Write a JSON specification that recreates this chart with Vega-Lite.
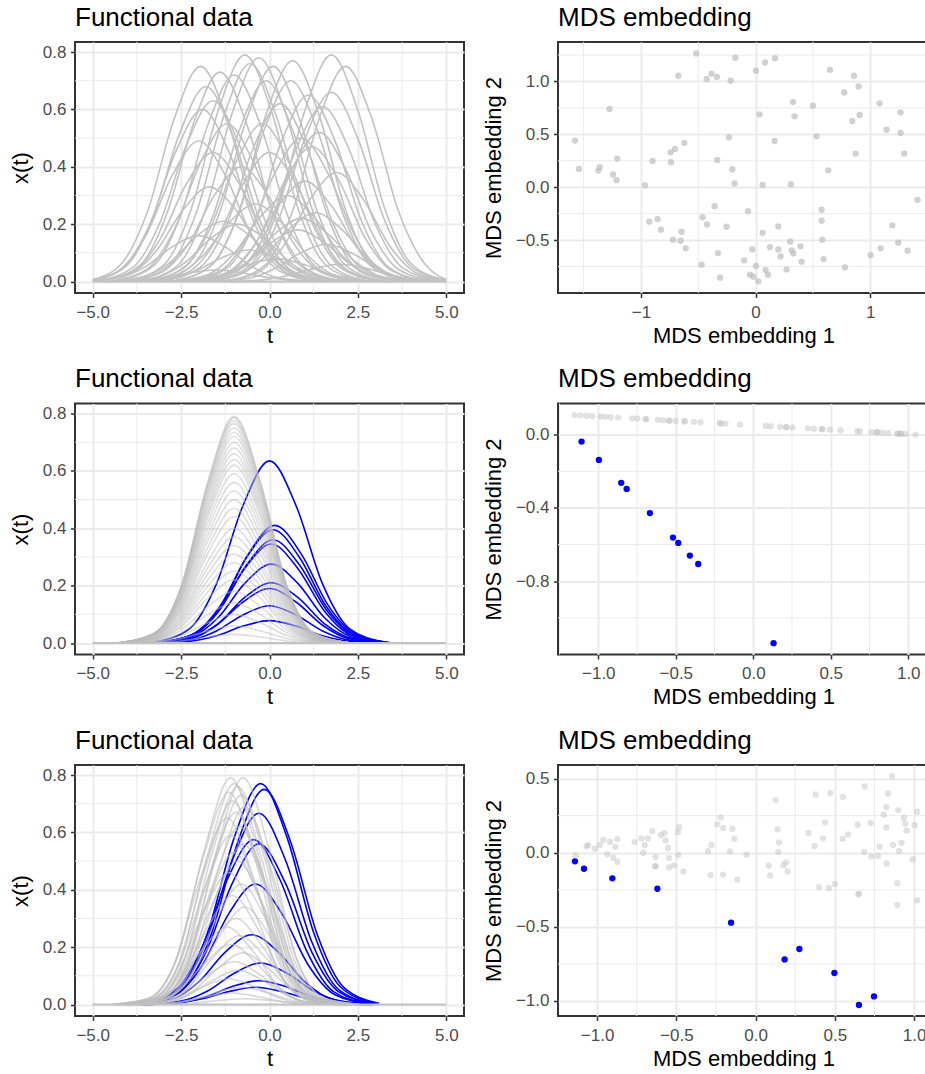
{
"$schema":"https://vega.github.io/schema/vega-lite/v6.json",
"background":"white",
"padding":{"left":8,"top":3,"right":0,"bottom":0},
"config":{
"font":"Liberation Sans",
"view":{"stroke":"#333333","strokeWidth":2},
"axis":{"domain":false,"grid":true,"gridColor":"#EBEBEB","gridWidth":2,"tickColor":"#333333","tickSize":4.5,"tickWidth":1.5,"labelFont":"Liberation Sans","labelFontSize":17,"labelColor":"#4D4D4D","titleFont":"Liberation Sans","titleFontSize":22,"titleFontWeight":"normal","titleColor":"#000000"},
"axisX":{"labelPadding":6.5,"titlePadding":6,"minExtent":26,"maxExtent":26},
"axisY":{"labelPadding":4.5,"titlePadding":9.5},
"title":{"font":"Liberation Sans","fontSize":26,"fontWeight":"normal","anchor":"start","frame":"group","offset":11,"baseline":"alphabetic","color":"#000000"}
},
"datasets":{
"f1":[
{"c":1,"t":-5,"x":0.007},{"c":1,"t":-4.2,"x":0.06},{"c":1,"t":-3.45,"x":0.244},{"c":1,"t":-2.7,"x":0.566},{"c":1,"t":-1.95,"x":0.75},{"c":1,"t":-1.2,"x":0.566},{"c":1,"t":-0.45,"x":0.244},{"c":1,"t":0.3,"x":0.06},{"c":1,"t":1.3,"x":0.004},
{"c":2,"t":-4.65,"x":0.004},{"c":2,"t":-3.65,"x":0.058},{"c":2,"t":-2.9,"x":0.237},{"c":2,"t":-2.15,"x":0.551},{"c":2,"t":-1.4,"x":0.73},{"c":2,"t":-0.65,"x":0.551},{"c":2,"t":0.1,"x":0.237},{"c":2,"t":0.85,"x":0.058},{"c":2,"t":1.85,"x":0.004},
{"c":3,"t":-5,"x":0.004},{"c":3,"t":-4.05,"x":0.054},{"c":3,"t":-3.3,"x":0.221},{"c":3,"t":-2.55,"x":0.513},{"c":3,"t":-1.8,"x":0.68},{"c":3,"t":-1.05,"x":0.513},{"c":3,"t":-0.3,"x":0.221},{"c":3,"t":0.45,"x":0.054},{"c":3,"t":1.45,"x":0.003},
{"c":4,"t":-4.85,"x":0.003},{"c":4,"t":-3.85,"x":0.05},{"c":4,"t":-3.1,"x":0.205},{"c":4,"t":-2.35,"x":0.476},{"c":4,"t":-1.6,"x":0.63},{"c":4,"t":-0.85,"x":0.476},{"c":4,"t":-0.1,"x":0.205},{"c":4,"t":0.65,"x":0.05},{"c":4,"t":1.65,"x":0.003},
{"c":5,"t":-5,"x":0.005},{"c":5,"t":-4.15,"x":0.048},{"c":5,"t":-3.4,"x":0.195},{"c":5,"t":-2.65,"x":0.453},{"c":5,"t":-1.9,"x":0.6},{"c":5,"t":-1.15,"x":0.453},{"c":5,"t":-0.4,"x":0.195},{"c":5,"t":0.35,"x":0.048},{"c":5,"t":1.35,"x":0.003},
{"c":6,"t":-5,"x":0.005},{"c":6,"t":-4.25,"x":0.039},{"c":6,"t":-3.5,"x":0.159},{"c":6,"t":-2.75,"x":0.37},{"c":6,"t":-2,"x":0.49},{"c":6,"t":-1.25,"x":0.37},{"c":6,"t":-0.5,"x":0.159},{"c":6,"t":0.25,"x":0.039},{"c":6,"t":1.25,"x":0.002},
{"c":7,"t":-3.95,"x":0.004},{"c":7,"t":-2.95,"x":0.063},{"c":7,"t":-2.2,"x":0.257},{"c":7,"t":-1.45,"x":0.596},{"c":7,"t":-0.7,"x":0.79},{"c":7,"t":0.05,"x":0.596},{"c":7,"t":0.8,"x":0.257},{"c":7,"t":1.55,"x":0.063},{"c":7,"t":2.55,"x":0.004},
{"c":8,"t":-3.55,"x":0.004},{"c":8,"t":-2.55,"x":0.062},{"c":8,"t":-1.8,"x":0.254},{"c":8,"t":-1.05,"x":0.589},{"c":8,"t":-0.3,"x":0.78},{"c":8,"t":0.45,"x":0.589},{"c":8,"t":1.2,"x":0.254},{"c":8,"t":1.95,"x":0.062},{"c":8,"t":2.95,"x":0.004},
{"c":9,"t":-3.8,"x":0.004},{"c":9,"t":-2.8,"x":0.061},{"c":9,"t":-2.05,"x":0.247},{"c":9,"t":-1.3,"x":0.574},{"c":9,"t":-0.55,"x":0.76},{"c":9,"t":0.2,"x":0.574},{"c":9,"t":0.95,"x":0.247},{"c":9,"t":1.7,"x":0.061},{"c":9,"t":2.7,"x":0.004},
{"c":10,"t":-3.15,"x":0.004},{"c":10,"t":-2.15,"x":0.06},{"c":10,"t":-1.4,"x":0.244},{"c":10,"t":-0.65,"x":0.566},{"c":10,"t":0.1,"x":0.75},{"c":10,"t":0.85,"x":0.566},{"c":10,"t":1.6,"x":0.244},{"c":10,"t":2.35,"x":0.06},{"c":10,"t":3.35,"x":0.004},
{"c":11,"t":-2.6,"x":0.004},{"c":11,"t":-1.6,"x":0.062},{"c":11,"t":-0.85,"x":0.25},{"c":11,"t":-0.1,"x":0.581},{"c":11,"t":0.65,"x":0.77},{"c":11,"t":1.4,"x":0.581},{"c":11,"t":2.15,"x":0.25},{"c":11,"t":2.9,"x":0.062},{"c":11,"t":3.9,"x":0.004},
{"c":12,"t":-1.5,"x":0.004},{"c":12,"t":-0.5,"x":0.063},{"c":12,"t":0.25,"x":0.257},{"c":12,"t":1,"x":0.596},{"c":12,"t":1.75,"x":0.79},{"c":12,"t":2.5,"x":0.596},{"c":12,"t":3.25,"x":0.257},{"c":12,"t":4,"x":0.063},{"c":12,"t":5,"x":0.004},
{"c":13,"t":-1.1,"x":0.004},{"c":13,"t":-0.1,"x":0.06},{"c":13,"t":0.65,"x":0.244},{"c":13,"t":1.4,"x":0.566},{"c":13,"t":2.15,"x":0.75},{"c":13,"t":2.9,"x":0.566},{"c":13,"t":3.65,"x":0.244},{"c":13,"t":4.4,"x":0.06},{"c":13,"t":5,"x":0.007},
{"c":14,"t":-1.5,"x":0.003},{"c":14,"t":-0.5,"x":0.053},{"c":14,"t":0.25,"x":0.215},{"c":14,"t":1,"x":0.498},{"c":14,"t":1.75,"x":0.66},{"c":14,"t":2.5,"x":0.498},{"c":14,"t":3.25,"x":0.215},{"c":14,"t":4,"x":0.053},{"c":14,"t":5,"x":0.003},
{"c":15,"t":-1.75,"x":0.003},{"c":15,"t":-0.75,"x":0.049},{"c":15,"t":0,"x":0.198},{"c":15,"t":0.75,"x":0.461},{"c":15,"t":1.5,"x":0.61},{"c":15,"t":2.25,"x":0.461},{"c":15,"t":3,"x":0.198},{"c":15,"t":3.75,"x":0.049},{"c":15,"t":4.75,"x":0.003},
{"c":16,"t":-2.65,"x":0.004},{"c":16,"t":-1.65,"x":0.056},{"c":16,"t":-0.9,"x":0.228},{"c":16,"t":-0.15,"x":0.529},{"c":16,"t":0.6,"x":0.7},{"c":16,"t":1.35,"x":0.529},{"c":16,"t":2.1,"x":0.228},{"c":16,"t":2.85,"x":0.056},{"c":16,"t":3.85,"x":0.004},
{"c":17,"t":-2.35,"x":0.003},{"c":17,"t":-1.35,"x":0.04},{"c":17,"t":-0.6,"x":0.163},{"c":17,"t":0.15,"x":0.378},{"c":17,"t":0.9,"x":0.5},{"c":17,"t":1.65,"x":0.378},{"c":17,"t":2.4,"x":0.163},{"c":17,"t":3.15,"x":0.04},{"c":17,"t":4.15,"x":0.003},
{"c":18,"t":-2.05,"x":0.002},{"c":18,"t":-1.05,"x":0.038},{"c":18,"t":-0.3,"x":0.153},{"c":18,"t":0.45,"x":0.355},{"c":18,"t":1.2,"x":0.47},{"c":18,"t":1.95,"x":0.355},{"c":18,"t":2.7,"x":0.153},{"c":18,"t":3.45,"x":0.038},{"c":18,"t":4.45,"x":0.002},
{"c":19,"t":-4.25,"x":0.004},{"c":19,"t":-3.25,"x":0.058},{"c":19,"t":-2.5,"x":0.234},{"c":19,"t":-1.75,"x":0.544},{"c":19,"t":-1,"x":0.72},{"c":19,"t":-0.25,"x":0.544},{"c":19,"t":0.5,"x":0.234},{"c":19,"t":1.25,"x":0.058},{"c":19,"t":2.25,"x":0.004},
{"c":20,"t":-3.35,"x":0.004},{"c":20,"t":-2.35,"x":0.056},{"c":20,"t":-1.6,"x":0.228},{"c":20,"t":-0.85,"x":0.529},{"c":20,"t":-0.1,"x":0.7},{"c":20,"t":0.65,"x":0.529},{"c":20,"t":1.4,"x":0.228},{"c":20,"t":2.15,"x":0.056},{"c":20,"t":3.15,"x":0.004},
{"c":21,"t":-2.95,"x":0.003},{"c":21,"t":-1.95,"x":0.05},{"c":21,"t":-1.2,"x":0.202},{"c":21,"t":-0.45,"x":0.468},{"c":21,"t":0.3,"x":0.62},{"c":21,"t":1.05,"x":0.468},{"c":21,"t":1.8,"x":0.202},{"c":21,"t":2.55,"x":0.05},{"c":21,"t":3.55,"x":0.003},
{"c":22,"t":-4.45,"x":0.003},{"c":22,"t":-3.45,"x":0.044},{"c":22,"t":-2.7,"x":0.179},{"c":22,"t":-1.95,"x":0.415},{"c":22,"t":-1.2,"x":0.55},{"c":22,"t":-0.45,"x":0.415},{"c":22,"t":0.3,"x":0.179},{"c":22,"t":1.05,"x":0.044},{"c":22,"t":2.05,"x":0.003},
{"c":23,"t":-3.25,"x":0.002},{"c":23,"t":-2.25,"x":0.036},{"c":23,"t":-1.5,"x":0.146},{"c":23,"t":-0.75,"x":0.34},{"c":23,"t":0,"x":0.45},{"c":23,"t":0.75,"x":0.34},{"c":23,"t":1.5,"x":0.146},{"c":23,"t":2.25,"x":0.036},{"c":23,"t":3.25,"x":0.002},
{"c":24,"t":-4.05,"x":0.002},{"c":24,"t":-3.05,"x":0.032},{"c":24,"t":-2.3,"x":0.13},{"c":24,"t":-1.55,"x":0.302},{"c":24,"t":-0.8,"x":0.4},{"c":24,"t":-0.05,"x":0.302},{"c":24,"t":0.7,"x":0.13},{"c":24,"t":1.45,"x":0.032},{"c":24,"t":2.45,"x":0.002},
{"c":25,"t":-1.35,"x":0.002},{"c":25,"t":-0.35,"x":0.03},{"c":25,"t":0.4,"x":0.124},{"c":25,"t":1.15,"x":0.287},{"c":25,"t":1.9,"x":0.38},{"c":25,"t":2.65,"x":0.287},{"c":25,"t":3.4,"x":0.124},{"c":25,"t":4.15,"x":0.03},{"c":25,"t":5,"x":0.002},
{"c":26,"t":-4.95,"x":0.002},{"c":26,"t":-3.95,"x":0.026},{"c":26,"t":-3.2,"x":0.107},{"c":26,"t":-2.45,"x":0.249},{"c":26,"t":-1.7,"x":0.33},{"c":26,"t":-0.95,"x":0.249},{"c":26,"t":-0.2,"x":0.107},{"c":26,"t":0.55,"x":0.026},{"c":26,"t":1.55,"x":0.002},
{"c":27,"t":-2.75,"x":0.002},{"c":27,"t":-1.75,"x":0.024},{"c":27,"t":-1,"x":0.098},{"c":27,"t":-0.25,"x":0.227},{"c":27,"t":0.5,"x":0.3},{"c":27,"t":1.25,"x":0.227},{"c":27,"t":2,"x":0.098},{"c":27,"t":2.75,"x":0.024},{"c":27,"t":3.75,"x":0.002},
{"c":28,"t":-3.65,"x":0.001},{"c":28,"t":-2.65,"x":0.022},{"c":28,"t":-1.9,"x":0.088},{"c":28,"t":-1.15,"x":0.204},{"c":28,"t":-0.4,"x":0.27},{"c":28,"t":0.35,"x":0.204},{"c":28,"t":1.1,"x":0.088},{"c":28,"t":1.85,"x":0.022},{"c":28,"t":2.85,"x":0.001},
{"c":29,"t":-1.95,"x":0.001},{"c":29,"t":-0.95,"x":0.019},{"c":29,"t":-0.2,"x":0.078},{"c":29,"t":0.55,"x":0.181},{"c":29,"t":1.3,"x":0.24},{"c":29,"t":2.05,"x":0.181},{"c":29,"t":2.8,"x":0.078},{"c":29,"t":3.55,"x":0.019},{"c":29,"t":4.55,"x":0.001},
{"c":30,"t":-4.55,"x":0.001},{"c":30,"t":-3.55,"x":0.017},{"c":30,"t":-2.8,"x":0.068},{"c":30,"t":-2.05,"x":0.159},{"c":30,"t":-1.3,"x":0.21},{"c":30,"t":-0.55,"x":0.159},{"c":30,"t":0.2,"x":0.068},{"c":30,"t":0.95,"x":0.017},{"c":30,"t":1.95,"x":0.001},
{"c":31,"t":-2.45,"x":0.001},{"c":31,"t":-1.45,"x":0.014},{"c":31,"t":-0.7,"x":0.059},{"c":31,"t":0.05,"x":0.136},{"c":31,"t":0.8,"x":0.18},{"c":31,"t":1.55,"x":0.136},{"c":31,"t":2.3,"x":0.059},{"c":31,"t":3.05,"x":0.014},{"c":31,"t":4.05,"x":0.001},
{"c":32,"t":-5,"x":0.002},{"c":32,"t":-4.25,"x":0.013},{"c":32,"t":-3.5,"x":0.052},{"c":32,"t":-2.75,"x":0.121},{"c":32,"t":-2,"x":0.16},{"c":32,"t":-1.25,"x":0.121},{"c":32,"t":-0.5,"x":0.052},{"c":32,"t":0.25,"x":0.013},{"c":32,"t":1.25,"x":0.001},
{"c":33,"t":-1.65,"x":0.001},{"c":33,"t":-0.65,"x":0.01},{"c":33,"t":0.1,"x":0.042},{"c":33,"t":0.85,"x":0.098},{"c":33,"t":1.6,"x":0.13},{"c":33,"t":2.35,"x":0.098},{"c":33,"t":3.1,"x":0.042},{"c":33,"t":3.85,"x":0.01},{"c":33,"t":4.85,"x":0.001},
{"c":34,"t":-3.85,"x":0.001},{"c":34,"t":-2.85,"x":0.009},{"c":34,"t":-2.1,"x":0.036},{"c":34,"t":-1.35,"x":0.083},{"c":34,"t":-0.6,"x":0.11},{"c":34,"t":0.15,"x":0.083},{"c":34,"t":0.9,"x":0.036},{"c":34,"t":1.65,"x":0.009},{"c":34,"t":2.65,"x":0.001},
{"c":35,"t":-3.05,"x":0},{"c":35,"t":-2.05,"x":0.006},{"c":35,"t":-1.3,"x":0.026},{"c":35,"t":-0.55,"x":0.06},{"c":35,"t":0.2,"x":0.08},{"c":35,"t":0.95,"x":0.06},{"c":35,"t":1.7,"x":0.026},{"c":35,"t":2.45,"x":0.006},{"c":35,"t":3.45,"x":0},
{"c":36,"t":-1.25,"x":0},{"c":36,"t":-0.25,"x":0.005},{"c":36,"t":0.5,"x":0.02},{"c":36,"t":1.25,"x":0.045},{"c":36,"t":2,"x":0.06},{"c":36,"t":2.75,"x":0.045},{"c":36,"t":3.5,"x":0.02},{"c":36,"t":4.25,"x":0.005},{"c":36,"t":5,"x":0},
{"c":37,"t":-4.75,"x":0},{"c":37,"t":-3.75,"x":0.003},{"c":37,"t":-3,"x":0.013},{"c":37,"t":-2.25,"x":0.03},{"c":37,"t":-1.5,"x":0.04},{"c":37,"t":-0.75,"x":0.03},{"c":37,"t":0,"x":0.013},{"c":37,"t":0.75,"x":0.003},{"c":37,"t":1.75,"x":0},
{"c":38,"t":-2.25,"x":0.002},{"c":38,"t":-1.25,"x":0.028},{"c":38,"t":-0.5,"x":0.114},{"c":38,"t":0.25,"x":0.264},{"c":38,"t":1,"x":0.35},{"c":38,"t":1.75,"x":0.264},{"c":38,"t":2.5,"x":0.114},{"c":38,"t":3.25,"x":0.028},{"c":38,"t":4.25,"x":0.002},
{"c":39,"t":-3.45,"x":0.003},{"c":39,"t":-2.45,"x":0.044},{"c":39,"t":-1.7,"x":0.179},{"c":39,"t":-0.95,"x":0.415},{"c":39,"t":-0.2,"x":0.55},{"c":39,"t":0.55,"x":0.415},{"c":39,"t":1.3,"x":0.179},{"c":39,"t":2.05,"x":0.044},{"c":39,"t":3.05,"x":0.003},
{"c":40,"t":-2.15,"x":0.003},{"c":40,"t":-1.15,"x":0.052},{"c":40,"t":-0.4,"x":0.211},{"c":40,"t":0.35,"x":0.491},{"c":40,"t":1.1,"x":0.65},{"c":40,"t":1.85,"x":0.491},{"c":40,"t":2.6,"x":0.211},{"c":40,"t":3.35,"x":0.052},{"c":40,"t":4.35,"x":0.003},
{"c":41,"t":-4.15,"x":0.001},{"c":41,"t":-3.15,"x":0.016},{"c":41,"t":-2.4,"x":0.065},{"c":41,"t":-1.65,"x":0.151},{"c":41,"t":-0.9,"x":0.2},{"c":41,"t":-0.15,"x":0.151},{"c":41,"t":0.6,"x":0.065},{"c":41,"t":1.35,"x":0.016},{"c":41,"t":2.35,"x":0.001},
{"c":42,"t":-2.35,"x":0.001},{"c":42,"t":-1.35,"x":0.018},{"c":42,"t":-0.6,"x":0.072},{"c":42,"t":0.15,"x":0.166},{"c":42,"t":0.9,"x":0.22},{"c":42,"t":1.65,"x":0.166},{"c":42,"t":2.4,"x":0.072},{"c":42,"t":3.15,"x":0.018},{"c":42,"t":4.15,"x":0.001},
{"c":43,"t":-1.85,"x":0.003},{"c":43,"t":-0.85,"x":0.042},{"c":43,"t":-0.1,"x":0.169},{"c":43,"t":0.65,"x":0.393},{"c":43,"t":1.4,"x":0.52},{"c":43,"t":2.15,"x":0.393},{"c":43,"t":2.9,"x":0.169},{"c":43,"t":3.65,"x":0.042},{"c":43,"t":4.65,"x":0.003},
{"c":44,"t":-4.85,"x":0.002},{"c":44,"t":-3.85,"x":0.036},{"c":44,"t":-3.1,"x":0.146},{"c":44,"t":-2.35,"x":0.34},{"c":44,"t":-1.6,"x":0.45},{"c":44,"t":-0.85,"x":0.34},{"c":44,"t":-0.1,"x":0.146},{"c":44,"t":0.65,"x":0.036},{"c":44,"t":1.65,"x":0.002}
],
"f2g":[
{"c":1,"t":-4.25,"x":0.001},{"c":1,"t":-3.25,"x":0.035},{"c":1,"t":-2.5,"x":0.197},{"c":1,"t":-1.75,"x":0.559},{"c":1,"t":-1,"x":0.79},{"c":1,"t":-0.25,"x":0.559},{"c":1,"t":0.5,"x":0.197},{"c":1,"t":1.25,"x":0.035},{"c":1,"t":2.25,"x":0.001},
{"c":2,"t":-4.25,"x":0.001},{"c":2,"t":-3.25,"x":0.035},{"c":2,"t":-2.5,"x":0.195},{"c":2,"t":-1.75,"x":0.555},{"c":2,"t":-1,"x":0.785},{"c":2,"t":-0.25,"x":0.555},{"c":2,"t":0.5,"x":0.195},{"c":2,"t":1.25,"x":0.035},{"c":2,"t":2.25,"x":0.001},
{"c":3,"t":-4.25,"x":0.001},{"c":3,"t":-3.25,"x":0.034},{"c":3,"t":-2.5,"x":0.193},{"c":3,"t":-1.75,"x":0.548},{"c":3,"t":-1,"x":0.775},{"c":3,"t":-0.25,"x":0.548},{"c":3,"t":0.5,"x":0.193},{"c":3,"t":1.25,"x":0.034},{"c":3,"t":2.25,"x":0.001},
{"c":4,"t":-4.25,"x":0.001},{"c":4,"t":-3.25,"x":0.034},{"c":4,"t":-2.5,"x":0.19},{"c":4,"t":-1.75,"x":0.541},{"c":4,"t":-1,"x":0.765},{"c":4,"t":-0.25,"x":0.541},{"c":4,"t":0.5,"x":0.19},{"c":4,"t":1.25,"x":0.034},{"c":4,"t":2.25,"x":0.001},
{"c":5,"t":-4.25,"x":0.001},{"c":5,"t":-3.25,"x":0.033},{"c":5,"t":-2.5,"x":0.187},{"c":5,"t":-1.75,"x":0.53},{"c":5,"t":-1,"x":0.75},{"c":5,"t":-0.25,"x":0.53},{"c":5,"t":0.5,"x":0.187},{"c":5,"t":1.25,"x":0.033},{"c":5,"t":2.25,"x":0.001},
{"c":6,"t":-4.25,"x":0.001},{"c":6,"t":-3.25,"x":0.032},{"c":6,"t":-2.5,"x":0.183},{"c":6,"t":-1.75,"x":0.52},{"c":6,"t":-1,"x":0.735},{"c":6,"t":-0.25,"x":0.52},{"c":6,"t":0.5,"x":0.183},{"c":6,"t":1.25,"x":0.032},{"c":6,"t":2.25,"x":0.001},
{"c":7,"t":-4.25,"x":0.001},{"c":7,"t":-3.25,"x":0.032},{"c":7,"t":-2.5,"x":0.179},{"c":7,"t":-1.75,"x":0.509},{"c":7,"t":-1,"x":0.72},{"c":7,"t":-0.25,"x":0.509},{"c":7,"t":0.5,"x":0.179},{"c":7,"t":1.25,"x":0.032},{"c":7,"t":2.25,"x":0.001},
{"c":8,"t":-4.25,"x":0.001},{"c":8,"t":-3.25,"x":0.031},{"c":8,"t":-2.5,"x":0.174},{"c":8,"t":-1.75,"x":0.495},{"c":8,"t":-1,"x":0.7},{"c":8,"t":-0.25,"x":0.495},{"c":8,"t":0.5,"x":0.174},{"c":8,"t":1.25,"x":0.031},{"c":8,"t":2.25,"x":0.001},
{"c":9,"t":-4.25,"x":0.001},{"c":9,"t":-3.25,"x":0.03},{"c":9,"t":-2.5,"x":0.169},{"c":9,"t":-1.75,"x":0.481},{"c":9,"t":-1,"x":0.68},{"c":9,"t":-0.25,"x":0.481},{"c":9,"t":0.5,"x":0.169},{"c":9,"t":1.25,"x":0.03},{"c":9,"t":2.25,"x":0.001},
{"c":10,"t":-4.25,"x":0.001},{"c":10,"t":-3.25,"x":0.029},{"c":10,"t":-2.5,"x":0.164},{"c":10,"t":-1.75,"x":0.467},{"c":10,"t":-1,"x":0.66},{"c":10,"t":-0.25,"x":0.467},{"c":10,"t":0.5,"x":0.164},{"c":10,"t":1.25,"x":0.029},{"c":10,"t":2.25,"x":0.001},
{"c":11,"t":-4.25,"x":0.001},{"c":11,"t":-3.25,"x":0.028},{"c":11,"t":-2.5,"x":0.159},{"c":11,"t":-1.75,"x":0.452},{"c":11,"t":-1,"x":0.64},{"c":11,"t":-0.25,"x":0.452},{"c":11,"t":0.5,"x":0.159},{"c":11,"t":1.25,"x":0.028},{"c":11,"t":2.25,"x":0.001},
{"c":12,"t":-4.25,"x":0.001},{"c":12,"t":-3.25,"x":0.027},{"c":12,"t":-2.5,"x":0.154},{"c":12,"t":-1.75,"x":0.438},{"c":12,"t":-1,"x":0.62},{"c":12,"t":-0.25,"x":0.438},{"c":12,"t":0.5,"x":0.154},{"c":12,"t":1.25,"x":0.027},{"c":12,"t":2.25,"x":0.001},
{"c":13,"t":-4.25,"x":0.001},{"c":13,"t":-3.25,"x":0.026},{"c":13,"t":-2.5,"x":0.147},{"c":13,"t":-1.75,"x":0.417},{"c":13,"t":-1,"x":0.59},{"c":13,"t":-0.25,"x":0.417},{"c":13,"t":0.5,"x":0.147},{"c":13,"t":1.25,"x":0.026},{"c":13,"t":2.25,"x":0.001},
{"c":14,"t":-4.25,"x":0.001},{"c":14,"t":-3.25,"x":0.025},{"c":14,"t":-2.5,"x":0.139},{"c":14,"t":-1.75,"x":0.396},{"c":14,"t":-1,"x":0.56},{"c":14,"t":-0.25,"x":0.396},{"c":14,"t":0.5,"x":0.139},{"c":14,"t":1.25,"x":0.025},{"c":14,"t":2.25,"x":0.001},
{"c":15,"t":-4.25,"x":0.001},{"c":15,"t":-3.25,"x":0.023},{"c":15,"t":-2.5,"x":0.132},{"c":15,"t":-1.75,"x":0.375},{"c":15,"t":-1,"x":0.53},{"c":15,"t":-0.25,"x":0.375},{"c":15,"t":0.5,"x":0.132},{"c":15,"t":1.25,"x":0.023},{"c":15,"t":2.25,"x":0.001},
{"c":16,"t":-4.25,"x":0},{"c":16,"t":-3.25,"x":0.022},{"c":16,"t":-2.5,"x":0.125},{"c":16,"t":-1.75,"x":0.354},{"c":16,"t":-1,"x":0.5},{"c":16,"t":-0.25,"x":0.354},{"c":16,"t":0.5,"x":0.125},{"c":16,"t":1.25,"x":0.022},{"c":16,"t":2.25,"x":0},
{"c":17,"t":-4.25,"x":0},{"c":17,"t":-3.25,"x":0.021},{"c":17,"t":-2.5,"x":0.117},{"c":17,"t":-1.75,"x":0.332},{"c":17,"t":-1,"x":0.47},{"c":17,"t":-0.25,"x":0.332},{"c":17,"t":0.5,"x":0.117},{"c":17,"t":1.25,"x":0.021},{"c":17,"t":2.25,"x":0},
{"c":18,"t":-4.25,"x":0},{"c":18,"t":-3.25,"x":0.019},{"c":18,"t":-2.5,"x":0.11},{"c":18,"t":-1.75,"x":0.311},{"c":18,"t":-1,"x":0.44},{"c":18,"t":-0.25,"x":0.311},{"c":18,"t":0.5,"x":0.11},{"c":18,"t":1.25,"x":0.019},{"c":18,"t":2.25,"x":0},
{"c":19,"t":-4.25,"x":0},{"c":19,"t":-3.25,"x":0.018},{"c":19,"t":-2.5,"x":0.1},{"c":19,"t":-1.75,"x":0.283},{"c":19,"t":-1,"x":0.4},{"c":19,"t":-0.25,"x":0.283},{"c":19,"t":0.5,"x":0.1},{"c":19,"t":1.25,"x":0.018},{"c":19,"t":2.25,"x":0},
{"c":20,"t":-4.25,"x":0},{"c":20,"t":-3.25,"x":0.016},{"c":20,"t":-2.5,"x":0.092},{"c":20,"t":-1.75,"x":0.262},{"c":20,"t":-1,"x":0.37},{"c":20,"t":-0.25,"x":0.262},{"c":20,"t":0.5,"x":0.092},{"c":20,"t":1.25,"x":0.016},{"c":20,"t":2.25,"x":0},
{"c":21,"t":-4.25,"x":0},{"c":21,"t":-3.25,"x":0.015},{"c":21,"t":-2.5,"x":0.085},{"c":21,"t":-1.75,"x":0.24},{"c":21,"t":-1,"x":0.34},{"c":21,"t":-0.25,"x":0.24},{"c":21,"t":0.5,"x":0.085},{"c":21,"t":1.25,"x":0.015},{"c":21,"t":2.25,"x":0},
{"c":22,"t":-4.25,"x":0},{"c":22,"t":-3.25,"x":0.014},{"c":22,"t":-2.5,"x":0.077},{"c":22,"t":-1.75,"x":0.219},{"c":22,"t":-1,"x":0.31},{"c":22,"t":-0.25,"x":0.219},{"c":22,"t":0.5,"x":0.077},{"c":22,"t":1.25,"x":0.014},{"c":22,"t":2.25,"x":0},
{"c":23,"t":-4.25,"x":0},{"c":23,"t":-3.25,"x":0.012},{"c":23,"t":-2.5,"x":0.07},{"c":23,"t":-1.75,"x":0.198},{"c":23,"t":-1,"x":0.28},{"c":23,"t":-0.25,"x":0.198},{"c":23,"t":0.5,"x":0.07},{"c":23,"t":1.25,"x":0.012},{"c":23,"t":2.25,"x":0},
{"c":24,"t":-4.25,"x":0},{"c":24,"t":-3.25,"x":0.011},{"c":24,"t":-2.5,"x":0.062},{"c":24,"t":-1.75,"x":0.177},{"c":24,"t":-1,"x":0.25},{"c":24,"t":-0.25,"x":0.177},{"c":24,"t":0.5,"x":0.062},{"c":24,"t":1.25,"x":0.011},{"c":24,"t":2.25,"x":0},
{"c":25,"t":-4.25,"x":0},{"c":25,"t":-3.25,"x":0.01},{"c":25,"t":-2.5,"x":0.055},{"c":25,"t":-1.75,"x":0.156},{"c":25,"t":-1,"x":0.22},{"c":25,"t":-0.25,"x":0.156},{"c":25,"t":0.5,"x":0.055},{"c":25,"t":1.25,"x":0.01},{"c":25,"t":2.25,"x":0},
{"c":26,"t":-4.25,"x":0},{"c":26,"t":-3.25,"x":0.008},{"c":26,"t":-2.5,"x":0.045},{"c":26,"t":-1.75,"x":0.127},{"c":26,"t":-1,"x":0.18},{"c":26,"t":-0.25,"x":0.127},{"c":26,"t":0.5,"x":0.045},{"c":26,"t":1.25,"x":0.008},{"c":26,"t":2.25,"x":0},
{"c":27,"t":-4.25,"x":0},{"c":27,"t":-3.25,"x":0.006},{"c":27,"t":-2.5,"x":0.035},{"c":27,"t":-1.75,"x":0.099},{"c":27,"t":-1,"x":0.14},{"c":27,"t":-0.25,"x":0.099},{"c":27,"t":0.5,"x":0.035},{"c":27,"t":1.25,"x":0.006},{"c":27,"t":2.25,"x":0},
{"c":28,"t":-4.25,"x":0},{"c":28,"t":-3.25,"x":0.004},{"c":28,"t":-2.5,"x":0.025},{"c":28,"t":-1.75,"x":0.071},{"c":28,"t":-1,"x":0.1},{"c":28,"t":-0.25,"x":0.071},{"c":28,"t":0.5,"x":0.025},{"c":28,"t":1.25,"x":0.004},{"c":28,"t":2.25,"x":0},
{"c":29,"t":-4.25,"x":0},{"c":29,"t":-3.25,"x":0.003},{"c":29,"t":-2.5,"x":0.015},{"c":29,"t":-1.75,"x":0.042},{"c":29,"t":-1,"x":0.06},{"c":29,"t":-0.25,"x":0.042},{"c":29,"t":0.5,"x":0.015},{"c":29,"t":1.25,"x":0.003},{"c":29,"t":2.25,"x":0},
{"c":30,"t":-4.25,"x":0},{"c":30,"t":-3.25,"x":0.001},{"c":30,"t":-2.5,"x":0.007},{"c":30,"t":-1.75,"x":0.021},{"c":30,"t":-1,"x":0.03},{"c":30,"t":-0.25,"x":0.021},{"c":30,"t":0.5,"x":0.007},{"c":30,"t":1.25,"x":0.001},{"c":30,"t":2.25,"x":0}
],
"f2b":[
{"c":1,"t":-3.25,"x":0.003},{"c":1,"t":-2.25,"x":0.051},{"c":1,"t":-1.5,"x":0.206},{"c":1,"t":-0.75,"x":0.479},{"c":1,"t":0,"x":0.635},{"c":1,"t":0.75,"x":0.479},{"c":1,"t":1.5,"x":0.206},{"c":1,"t":2.25,"x":0.051},{"c":1,"t":3.25,"x":0.003},
{"c":2,"t":-3.1,"x":0.002},{"c":2,"t":-2.1,"x":0.033},{"c":2,"t":-1.35,"x":0.133},{"c":2,"t":-0.6,"x":0.31},{"c":2,"t":0.15,"x":0.41},{"c":2,"t":0.9,"x":0.31},{"c":2,"t":1.65,"x":0.133},{"c":2,"t":2.4,"x":0.033},{"c":2,"t":3.4,"x":0.002},
{"c":3,"t":-3.15,"x":0.002},{"c":3,"t":-2.15,"x":0.032},{"c":3,"t":-1.4,"x":0.128},{"c":3,"t":-0.65,"x":0.298},{"c":3,"t":0.1,"x":0.395},{"c":3,"t":0.85,"x":0.298},{"c":3,"t":1.6,"x":0.128},{"c":3,"t":2.35,"x":0.032},{"c":3,"t":3.35,"x":0.002},
{"c":4,"t":-3.15,"x":0.002},{"c":4,"t":-2.15,"x":0.029},{"c":4,"t":-1.4,"x":0.117},{"c":4,"t":-0.65,"x":0.272},{"c":4,"t":0.1,"x":0.36},{"c":4,"t":0.85,"x":0.272},{"c":4,"t":1.6,"x":0.117},{"c":4,"t":2.35,"x":0.029},{"c":4,"t":3.35,"x":0.002},
{"c":5,"t":-3.2,"x":0.002},{"c":5,"t":-2.2,"x":0.028},{"c":5,"t":-1.45,"x":0.112},{"c":5,"t":-0.7,"x":0.26},{"c":5,"t":0.05,"x":0.345},{"c":5,"t":0.8,"x":0.26},{"c":5,"t":1.55,"x":0.112},{"c":5,"t":2.3,"x":0.028},{"c":5,"t":3.3,"x":0.002},
{"c":6,"t":-3.2,"x":0.001},{"c":6,"t":-2.2,"x":0.022},{"c":6,"t":-1.45,"x":0.089},{"c":6,"t":-0.7,"x":0.208},{"c":6,"t":0.05,"x":0.275},{"c":6,"t":0.8,"x":0.208},{"c":6,"t":1.55,"x":0.089},{"c":6,"t":2.3,"x":0.022},{"c":6,"t":3.3,"x":0.001},
{"c":7,"t":-3.2,"x":0.001},{"c":7,"t":-2.2,"x":0.017},{"c":7,"t":-1.45,"x":0.068},{"c":7,"t":-0.7,"x":0.159},{"c":7,"t":0.05,"x":0.21},{"c":7,"t":0.8,"x":0.159},{"c":7,"t":1.55,"x":0.068},{"c":7,"t":2.3,"x":0.017},{"c":7,"t":3.3,"x":0.001},
{"c":8,"t":-3.25,"x":0.001},{"c":8,"t":-2.25,"x":0.015},{"c":8,"t":-1.5,"x":0.062},{"c":8,"t":-0.75,"x":0.143},{"c":8,"t":0,"x":0.19},{"c":8,"t":0.75,"x":0.143},{"c":8,"t":1.5,"x":0.062},{"c":8,"t":2.25,"x":0.015},{"c":8,"t":3.25,"x":0.001},
{"c":9,"t":-3.25,"x":0.001},{"c":9,"t":-2.25,"x":0.01},{"c":9,"t":-1.5,"x":0.042},{"c":9,"t":-0.75,"x":0.098},{"c":9,"t":0,"x":0.13},{"c":9,"t":0.75,"x":0.098},{"c":9,"t":1.5,"x":0.042},{"c":9,"t":2.25,"x":0.01},{"c":9,"t":3.25,"x":0.001},
{"c":10,"t":-3.25,"x":0},{"c":10,"t":-2.25,"x":0.006},{"c":10,"t":-1.5,"x":0.025},{"c":10,"t":-0.75,"x":0.059},{"c":10,"t":0,"x":0.078},{"c":10,"t":0.75,"x":0.059},{"c":10,"t":1.5,"x":0.025},{"c":10,"t":2.25,"x":0.006},{"c":10,"t":3.25,"x":0}
],
"f3g":[
{"c":1,"t":-4.35,"x":0.001},{"c":1,"t":-3.35,"x":0.024},{"c":1,"t":-2.6,"x":0.167},{"c":1,"t":-1.85,"x":0.536},{"c":1,"t":-1.1,"x":0.79},{"c":1,"t":-0.35,"x":0.536},{"c":1,"t":0.4,"x":0.167},{"c":1,"t":1.15,"x":0.024},{"c":1,"t":2.15,"x":0.001},
{"c":2,"t":-4,"x":0.001},{"c":2,"t":-3,"x":0.024},{"c":2,"t":-2.25,"x":0.167},{"c":2,"t":-1.5,"x":0.536},{"c":2,"t":-0.75,"x":0.79},{"c":2,"t":0,"x":0.536},{"c":2,"t":0.75,"x":0.167},{"c":2,"t":1.5,"x":0.024},{"c":2,"t":2.5,"x":0.001},
{"c":3,"t":-4.25,"x":0.001},{"c":3,"t":-3.25,"x":0.023},{"c":3,"t":-2.5,"x":0.162},{"c":3,"t":-1.75,"x":0.522},{"c":3,"t":-1,"x":0.77},{"c":3,"t":-0.25,"x":0.522},{"c":3,"t":0.5,"x":0.162},{"c":3,"t":1.25,"x":0.023},{"c":3,"t":2.25,"x":0.001},
{"c":4,"t":-4.15,"x":0.001},{"c":4,"t":-3.15,"x":0.023},{"c":4,"t":-2.4,"x":0.16},{"c":4,"t":-1.65,"x":0.515},{"c":4,"t":-0.9,"x":0.76},{"c":4,"t":-0.15,"x":0.515},{"c":4,"t":0.6,"x":0.16},{"c":4,"t":1.35,"x":0.023},{"c":4,"t":2.35,"x":0.001},
{"c":5,"t":-4.4,"x":0.001},{"c":5,"t":-3.4,"x":0.022},{"c":5,"t":-2.65,"x":0.156},{"c":5,"t":-1.9,"x":0.502},{"c":5,"t":-1.15,"x":0.74},{"c":5,"t":-0.4,"x":0.502},{"c":5,"t":0.35,"x":0.156},{"c":5,"t":1.1,"x":0.022},{"c":5,"t":2.1,"x":0.001},
{"c":6,"t":-4.05,"x":0.001},{"c":6,"t":-3.05,"x":0.022},{"c":6,"t":-2.3,"x":0.154},{"c":6,"t":-1.55,"x":0.495},{"c":6,"t":-0.8,"x":0.73},{"c":6,"t":-0.05,"x":0.495},{"c":6,"t":0.7,"x":0.154},{"c":6,"t":1.45,"x":0.022},{"c":6,"t":2.45,"x":0.001},
{"c":7,"t":-4.3,"x":0.001},{"c":7,"t":-3.3,"x":0.021},{"c":7,"t":-2.55,"x":0.15},{"c":7,"t":-1.8,"x":0.481},{"c":7,"t":-1.05,"x":0.71},{"c":7,"t":-0.3,"x":0.481},{"c":7,"t":0.45,"x":0.15},{"c":7,"t":1.2,"x":0.021},{"c":7,"t":2.2,"x":0.001},
{"c":8,"t":-3.95,"x":0.001},{"c":8,"t":-2.95,"x":0.021},{"c":8,"t":-2.2,"x":0.146},{"c":8,"t":-1.45,"x":0.468},{"c":8,"t":-0.7,"x":0.69},{"c":8,"t":0.05,"x":0.468},{"c":8,"t":0.8,"x":0.146},{"c":8,"t":1.55,"x":0.021},{"c":8,"t":2.55,"x":0.001},
{"c":9,"t":-4.2,"x":0.001},{"c":9,"t":-3.2,"x":0.02},{"c":9,"t":-2.45,"x":0.141},{"c":9,"t":-1.7,"x":0.454},{"c":9,"t":-0.95,"x":0.67},{"c":9,"t":-0.2,"x":0.454},{"c":9,"t":0.55,"x":0.141},{"c":9,"t":1.3,"x":0.02},{"c":9,"t":2.3,"x":0.001},
{"c":10,"t":-4.45,"x":0.001},{"c":10,"t":-3.45,"x":0.02},{"c":10,"t":-2.7,"x":0.137},{"c":10,"t":-1.95,"x":0.441},{"c":10,"t":-1.2,"x":0.65},{"c":10,"t":-0.45,"x":0.441},{"c":10,"t":0.3,"x":0.137},{"c":10,"t":1.05,"x":0.02},{"c":10,"t":2.05,"x":0.001},
{"c":11,"t":-4.1,"x":0.001},{"c":11,"t":-3.1,"x":0.019},{"c":11,"t":-2.35,"x":0.131},{"c":11,"t":-1.6,"x":0.42},{"c":11,"t":-0.85,"x":0.62},{"c":11,"t":-0.1,"x":0.42},{"c":11,"t":0.65,"x":0.131},{"c":11,"t":1.4,"x":0.019},{"c":11,"t":2.4,"x":0.001},
{"c":12,"t":-4.35,"x":0.001},{"c":12,"t":-3.35,"x":0.018},{"c":12,"t":-2.6,"x":0.124},{"c":12,"t":-1.85,"x":0.4},{"c":12,"t":-1.1,"x":0.59},{"c":12,"t":-0.35,"x":0.4},{"c":12,"t":0.4,"x":0.124},{"c":12,"t":1.15,"x":0.018},{"c":12,"t":2.15,"x":0.001},
{"c":13,"t":-4,"x":0.001},{"c":13,"t":-3,"x":0.017},{"c":13,"t":-2.25,"x":0.118},{"c":13,"t":-1.5,"x":0.38},{"c":13,"t":-0.75,"x":0.56},{"c":13,"t":0,"x":0.38},{"c":13,"t":0.75,"x":0.118},{"c":13,"t":1.5,"x":0.017},{"c":13,"t":2.5,"x":0.001},
{"c":14,"t":-4.25,"x":0.001},{"c":14,"t":-3.25,"x":0.016},{"c":14,"t":-2.5,"x":0.112},{"c":14,"t":-1.75,"x":0.359},{"c":14,"t":-1,"x":0.53},{"c":14,"t":-0.25,"x":0.359},{"c":14,"t":0.5,"x":0.112},{"c":14,"t":1.25,"x":0.016},{"c":14,"t":2.25,"x":0.001},
{"c":15,"t":-4.15,"x":0.001},{"c":15,"t":-3.15,"x":0.015},{"c":15,"t":-2.4,"x":0.106},{"c":15,"t":-1.65,"x":0.339},{"c":15,"t":-0.9,"x":0.5},{"c":15,"t":-0.15,"x":0.339},{"c":15,"t":0.6,"x":0.106},{"c":15,"t":1.35,"x":0.015},{"c":15,"t":2.35,"x":0.001},
{"c":16,"t":-4.4,"x":0.001},{"c":16,"t":-3.4,"x":0.014},{"c":16,"t":-2.65,"x":0.097},{"c":16,"t":-1.9,"x":0.312},{"c":16,"t":-1.15,"x":0.46},{"c":16,"t":-0.4,"x":0.312},{"c":16,"t":0.35,"x":0.097},{"c":16,"t":1.1,"x":0.014},{"c":16,"t":2.1,"x":0.001},
{"c":17,"t":-4.05,"x":0.001},{"c":17,"t":-3.05,"x":0.013},{"c":17,"t":-2.3,"x":0.089},{"c":17,"t":-1.55,"x":0.285},{"c":17,"t":-0.8,"x":0.42},{"c":17,"t":-0.05,"x":0.285},{"c":17,"t":0.7,"x":0.089},{"c":17,"t":1.45,"x":0.013},{"c":17,"t":2.45,"x":0.001},
{"c":18,"t":-4.3,"x":0.001},{"c":18,"t":-3.3,"x":0.011},{"c":18,"t":-2.55,"x":0.08},{"c":18,"t":-1.8,"x":0.258},{"c":18,"t":-1.05,"x":0.38},{"c":18,"t":-0.3,"x":0.258},{"c":18,"t":0.45,"x":0.08},{"c":18,"t":1.2,"x":0.011},{"c":18,"t":2.2,"x":0.001},
{"c":19,"t":-3.95,"x":0.001},{"c":19,"t":-2.95,"x":0.01},{"c":19,"t":-2.2,"x":0.072},{"c":19,"t":-1.45,"x":0.231},{"c":19,"t":-0.7,"x":0.34},{"c":19,"t":0.05,"x":0.231},{"c":19,"t":0.8,"x":0.072},{"c":19,"t":1.55,"x":0.01},{"c":19,"t":2.55,"x":0.001},
{"c":20,"t":-4.2,"x":0},{"c":20,"t":-3.2,"x":0.009},{"c":20,"t":-2.45,"x":0.063},{"c":20,"t":-1.7,"x":0.203},{"c":20,"t":-0.95,"x":0.3},{"c":20,"t":-0.2,"x":0.203},{"c":20,"t":0.55,"x":0.063},{"c":20,"t":1.3,"x":0.009},{"c":20,"t":2.3,"x":0},
{"c":21,"t":-4.45,"x":0},{"c":21,"t":-3.45,"x":0.008},{"c":21,"t":-2.7,"x":0.057},{"c":21,"t":-1.95,"x":0.183},{"c":21,"t":-1.2,"x":0.27},{"c":21,"t":-0.45,"x":0.183},{"c":21,"t":0.3,"x":0.057},{"c":21,"t":1.05,"x":0.008},{"c":21,"t":2.05,"x":0},
{"c":22,"t":-4.1,"x":0},{"c":22,"t":-3.1,"x":0.007},{"c":22,"t":-2.35,"x":0.051},{"c":22,"t":-1.6,"x":0.163},{"c":22,"t":-0.85,"x":0.24},{"c":22,"t":-0.1,"x":0.163},{"c":22,"t":0.65,"x":0.051},{"c":22,"t":1.4,"x":0.007},{"c":22,"t":2.4,"x":0},
{"c":23,"t":-4.35,"x":0},{"c":23,"t":-3.35,"x":0.006},{"c":23,"t":-2.6,"x":0.044},{"c":23,"t":-1.85,"x":0.142},{"c":23,"t":-1.1,"x":0.21},{"c":23,"t":-0.35,"x":0.142},{"c":23,"t":0.4,"x":0.044},{"c":23,"t":1.15,"x":0.006},{"c":23,"t":2.15,"x":0},
{"c":24,"t":-4,"x":0},{"c":24,"t":-3,"x":0.005},{"c":24,"t":-2.25,"x":0.038},{"c":24,"t":-1.5,"x":0.122},{"c":24,"t":-0.75,"x":0.18},{"c":24,"t":0,"x":0.122},{"c":24,"t":0.75,"x":0.038},{"c":24,"t":1.5,"x":0.005},{"c":24,"t":2.5,"x":0},
{"c":25,"t":-4.25,"x":0},{"c":25,"t":-3.25,"x":0.005},{"c":25,"t":-2.5,"x":0.032},{"c":25,"t":-1.75,"x":0.102},{"c":25,"t":-1,"x":0.15},{"c":25,"t":-0.25,"x":0.102},{"c":25,"t":0.5,"x":0.032},{"c":25,"t":1.25,"x":0.005},{"c":25,"t":2.25,"x":0},
{"c":26,"t":-4.15,"x":0},{"c":26,"t":-3.15,"x":0.004},{"c":26,"t":-2.4,"x":0.025},{"c":26,"t":-1.65,"x":0.081},{"c":26,"t":-0.9,"x":0.12},{"c":26,"t":-0.15,"x":0.081},{"c":26,"t":0.6,"x":0.025},{"c":26,"t":1.35,"x":0.004},{"c":26,"t":2.35,"x":0},
{"c":27,"t":-4.4,"x":0},{"c":27,"t":-3.4,"x":0.003},{"c":27,"t":-2.65,"x":0.019},{"c":27,"t":-1.9,"x":0.061},{"c":27,"t":-1.15,"x":0.09},{"c":27,"t":-0.4,"x":0.061},{"c":27,"t":0.35,"x":0.019},{"c":27,"t":1.1,"x":0.003},{"c":27,"t":2.1,"x":0},
{"c":28,"t":-4.05,"x":0},{"c":28,"t":-3.05,"x":0.002},{"c":28,"t":-2.3,"x":0.013},{"c":28,"t":-1.55,"x":0.041},{"c":28,"t":-0.8,"x":0.06},{"c":28,"t":-0.05,"x":0.041},{"c":28,"t":0.7,"x":0.013},{"c":28,"t":1.45,"x":0.002},{"c":28,"t":2.45,"x":0},
{"c":29,"t":-4.3,"x":0},{"c":29,"t":-3.3,"x":0.001},{"c":29,"t":-2.55,"x":0.008},{"c":29,"t":-1.8,"x":0.027},{"c":29,"t":-1.05,"x":0.04},{"c":29,"t":-0.3,"x":0.027},{"c":29,"t":0.45,"x":0.008},{"c":29,"t":1.2,"x":0.001},{"c":29,"t":2.2,"x":0},
{"c":30,"t":-3.95,"x":0},{"c":30,"t":-2.95,"x":0.001},{"c":30,"t":-2.2,"x":0.004},{"c":30,"t":-1.45,"x":0.014},{"c":30,"t":-0.7,"x":0.02},{"c":30,"t":0.05,"x":0.014},{"c":30,"t":0.8,"x":0.004},{"c":30,"t":1.55,"x":0.001},{"c":30,"t":2.55,"x":0}
],
"f3b":[
{"c":1,"t":-3.5,"x":0.004},{"c":1,"t":-2.5,"x":0.062},{"c":1,"t":-1.75,"x":0.25},{"c":1,"t":-1,"x":0.581},{"c":1,"t":-0.25,"x":0.77},{"c":1,"t":0.5,"x":0.581},{"c":1,"t":1.25,"x":0.25},{"c":1,"t":2,"x":0.062},{"c":1,"t":3,"x":0.004},
{"c":2,"t":-3.4,"x":0.004},{"c":2,"t":-2.4,"x":0.06},{"c":2,"t":-1.65,"x":0.244},{"c":2,"t":-0.9,"x":0.566},{"c":2,"t":-0.15,"x":0.75},{"c":2,"t":0.6,"x":0.566},{"c":2,"t":1.35,"x":0.244},{"c":2,"t":2.1,"x":0.06},{"c":2,"t":3.1,"x":0.004},
{"c":3,"t":-3.55,"x":0.003},{"c":3,"t":-2.55,"x":0.053},{"c":3,"t":-1.8,"x":0.217},{"c":3,"t":-1.05,"x":0.504},{"c":3,"t":-0.3,"x":0.667},{"c":3,"t":0.45,"x":0.504},{"c":3,"t":1.2,"x":0.217},{"c":3,"t":1.95,"x":0.053},{"c":3,"t":2.95,"x":0.003},
{"c":4,"t":-3.7,"x":0.003},{"c":4,"t":-2.7,"x":0.046},{"c":4,"t":-1.95,"x":0.187},{"c":4,"t":-1.2,"x":0.434},{"c":4,"t":-0.45,"x":0.575},{"c":4,"t":0.3,"x":0.434},{"c":4,"t":1.05,"x":0.187},{"c":4,"t":1.8,"x":0.046},{"c":4,"t":2.8,"x":0.003},
{"c":5,"t":-3.55,"x":0.003},{"c":5,"t":-2.55,"x":0.045},{"c":5,"t":-1.8,"x":0.182},{"c":5,"t":-1.05,"x":0.423},{"c":5,"t":-0.3,"x":0.56},{"c":5,"t":0.45,"x":0.423},{"c":5,"t":1.2,"x":0.182},{"c":5,"t":1.95,"x":0.045},{"c":5,"t":2.95,"x":0.003},
{"c":6,"t":-3.65,"x":0.002},{"c":6,"t":-2.65,"x":0.034},{"c":6,"t":-1.9,"x":0.137},{"c":6,"t":-1.15,"x":0.317},{"c":6,"t":-0.4,"x":0.42},{"c":6,"t":0.35,"x":0.317},{"c":6,"t":1.1,"x":0.137},{"c":6,"t":1.85,"x":0.034},{"c":6,"t":2.85,"x":0.002},
{"c":7,"t":-3.75,"x":0.001},{"c":7,"t":-2.75,"x":0.019},{"c":7,"t":-2,"x":0.079},{"c":7,"t":-1.25,"x":0.183},{"c":7,"t":-0.5,"x":0.243},{"c":7,"t":0.25,"x":0.183},{"c":7,"t":1,"x":0.079},{"c":7,"t":1.75,"x":0.019},{"c":7,"t":2.75,"x":0.001},
{"c":8,"t":-3.5,"x":0.001},{"c":8,"t":-2.5,"x":0.012},{"c":8,"t":-1.75,"x":0.047},{"c":8,"t":-1,"x":0.109},{"c":8,"t":-0.25,"x":0.145},{"c":8,"t":0.5,"x":0.109},{"c":8,"t":1.25,"x":0.047},{"c":8,"t":2,"x":0.012},{"c":8,"t":3,"x":0.001},
{"c":9,"t":-3.55,"x":0},{"c":9,"t":-2.55,"x":0.007},{"c":9,"t":-1.8,"x":0.027},{"c":9,"t":-1.05,"x":0.063},{"c":9,"t":-0.3,"x":0.083},{"c":9,"t":0.45,"x":0.063},{"c":9,"t":1.2,"x":0.027},{"c":9,"t":1.95,"x":0.007},{"c":9,"t":2.95,"x":0},
{"c":10,"t":-3.65,"x":0},{"c":10,"t":-2.65,"x":0.005},{"c":10,"t":-1.9,"x":0.02},{"c":10,"t":-1.15,"x":0.045},{"c":10,"t":-0.4,"x":0.06},{"c":10,"t":0.35,"x":0.045},{"c":10,"t":1.1,"x":0.02},{"c":10,"t":1.85,"x":0.005},{"c":10,"t":2.85,"x":0}
],
"m1":[
{"d1":-1.575,"d2":0.441},{"d1":-1.54,"d2":0.173},{"d1":-1.371,"d2":0.157},{"d1":-1.36,"d2":0.189},{"d1":-1.273,"d2":0.74},{"d1":-1.243,"d2":0.12},{"d1":-1.212,"d2":0.066},{"d1":-1.206,"d2":0.271},{"d1":-0.964,"d2":0.019},{"d1":-0.927,"d2":-0.326},{"d1":-0.898,"d2":0.249},{"d1":-0.854,"d2":-0.302},{"d1":-0.825,"d2":-0.402},{"d1":-0.741,"d2":0.33},{"d1":-0.738,"d2":0.236},{"d1":-0.72,"d2":-0.496},{"d1":-0.703,"d2":0.362},{"d1":-0.674,"d2":1.054},{"d1":-0.654,"d2":-0.506},{"d1":-0.645,"d2":-0.421},{"d1":-0.622,"d2":0.419},{"d1":-0.61,"d2":-0.578},{"d1":-0.517,"d2":1.264},{"d1":-0.471,"d2":-0.732},{"d1":-0.462,"d2":-0.283},{"d1":-0.427,"d2":1.023},{"d1":-0.424,"d2":-0.352},{"d1":-0.384,"d2":1.073},{"d1":-0.357,"d2":-0.179},{"d1":-0.337,"d2":1.044},{"d1":-0.334,"d2":0.258},{"d1":-0.328,"d2":-0.623},{"d1":-0.31,"d2":-0.855},{"d1":-0.253,"d2":-0.374},{"d1":-0.232,"d2":0.472},{"d1":-0.218,"d2":1.007},{"d1":-0.203,"d2":0.17},{"d1":-0.183,"d2":0.035},{"d1":-0.177,"d2":1.224},{"d1":-0.099,"d2":-0.692},{"d1":-0.066,"d2":-0.226},{"d1":-0.049,"d2":-0.827},{"d1":-0.029,"d2":-0.588},{"d1":-0.02,"d2":-0.846},{"d1":0.003,"d2":1.101},{"d1":0.003,"d2":-0.745},{"d1":0.024,"d2":-0.89},{"d1":0.035,"d2":0.689},{"d1":0.061,"d2":0.022},{"d1":0.061,"d2":-0.431},{"d1":0.082,"d2":1.179},{"d1":0.087,"d2":-0.783},{"d1":0.108,"d2":-0.827},{"d1":0.125,"d2":-0.566},{"d1":0.166,"d2":0.437},{"d1":0.169,"d2":1.22},{"d1":0.198,"d2":-0.371},{"d1":0.198,"d2":-0.588},{"d1":0.218,"d2":-0.654},{"d1":0.27,"d2":-0.777},{"d1":0.302,"d2":-0.515},{"d1":0.308,"d2":0.028},{"d1":0.314,"d2":-0.597},{"d1":0.326,"d2":0.805},{"d1":0.329,"d2":-0.626},{"d1":0.34,"d2":0.67},{"d1":0.392,"d2":-0.559},{"d1":0.401,"d2":-0.704},{"d1":0.5,"d2":0.771},{"d1":0.532,"d2":0.481},{"d1":0.575,"d2":-0.213},{"d1":0.575,"d2":-0.317},{"d1":0.581,"d2":-0.496},{"d1":0.593,"d2":-0.679},{"d1":0.634,"d2":0.16},{"d1":0.649,"d2":1.11},{"d1":0.773,"d2":0.896},{"d1":0.779,"d2":-0.758},{"d1":0.843,"d2":0.626},{"d1":0.858,"d2":1.054},{"d1":0.872,"d2":0.318},{"d1":0.898,"d2":0.953},{"d1":0.907,"d2":0.683},{"d1":1.003,"d2":-0.642},{"d1":1.081,"d2":0.792},{"d1":1.09,"d2":-0.578},{"d1":1.142,"d2":0.544},{"d1":1.192,"d2":-0.361},{"d1":1.244,"d2":-0.525},{"d1":1.264,"d2":0.708},{"d1":1.264,"d2":0.513},{"d1":1.296,"d2":0.318},{"d1":1.325,"d2":-0.6},{"d1":1.412,"d2":-0.119}
],
"m2g":[
{"d1":-1.153,"d2":0.107},{"d1":-1.114,"d2":0.105},{"d1":-1.075,"d2":0.103},{"d1":-1.039,"d2":0.101},{"d1":-0.985,"d2":0.099},{"d1":-0.953,"d2":0.097},{"d1":-0.92,"d2":0.095},{"d1":-0.871,"d2":0.093},{"d1":-0.781,"d2":0.089},{"d1":-0.748,"d2":0.087},{"d1":-0.695,"d2":0.085},{"d1":-0.69,"d2":0.085},{"d1":-0.615,"d2":0.081},{"d1":-0.581,"d2":0.079},{"d1":-0.544,"d2":0.077},{"d1":-0.54,"d2":0.077},{"d1":-0.501,"d2":0.075},{"d1":-0.447,"d2":0.073},{"d1":-0.44,"d2":0.072},{"d1":-0.383,"d2":0.07},{"d1":-0.34,"d2":0.068},{"d1":-0.215,"d2":0.062},{"d1":-0.21,"d2":0.062},{"d1":-0.179,"d2":0.06},{"d1":-0.086,"d2":0.055},{"d1":0.08,"d2":0.047},{"d1":0.112,"d2":0.046},{"d1":0.172,"d2":0.043},{"d1":0.209,"d2":0.041},{"d1":0.215,"d2":0.041},{"d1":0.252,"d2":0.039},{"d1":0.353,"d2":0.034},{"d1":0.391,"d2":0.032},{"d1":0.441,"d2":0.03},{"d1":0.447,"d2":0.03},{"d1":0.495,"d2":0.027},{"d1":0.563,"d2":0.024},{"d1":0.671,"d2":0.019},{"d1":0.688,"d2":0.018},{"d1":0.761,"d2":0.014},{"d1":0.796,"d2":0.013},{"d1":0.8,"d2":0.013},{"d1":0.832,"d2":0.011},{"d1":0.869,"d2":0.009},{"d1":0.929,"d2":0.006},{"d1":0.935,"d2":0.006},{"d1":0.95,"d2":0.005},{"d1":0.955,"d2":0.005},{"d1":0.983,"d2":0.003},{"d1":1.047,"d2":0}
],
"m2b":[
{"d1":-1.108,"d2":-0.038},{"d1":-0.996,"d2":-0.138},{"d1":-0.852,"d2":-0.263},{"d1":-0.817,"d2":-0.296},{"d1":-0.667,"d2":-0.428},{"d1":-0.518,"d2":-0.562},{"d1":-0.484,"d2":-0.591},{"d1":-0.409,"d2":-0.66},{"d1":-0.355,"d2":-0.706},{"d1":0.131,"d2":-1.138}
],
"m3g":[
{"d1":-1.136,"d2":-0.016},{"d1":-1.066,"d2":0.045},{"d1":-1.057,"d2":0.052},{"d1":-1.016,"d2":0.027},{"d1":-0.982,"d2":0.052},{"d1":-0.961,"d2":0.088},{"d1":-0.919,"d2":0.074},{"d1":-0.936,"d2":-0.011},{"d1":-0.898,"d2":-0.034},{"d1":-0.873,"d2":-0.061},{"d1":-0.885,"d2":0.04},{"d1":-0.873,"d2":0.092},{"d1":-0.763,"d2":0.072},{"d1":-0.721,"d2":0.097},{"d1":-0.709,"d2":0},{"d1":-0.7,"d2":0.052},{"d1":-0.679,"d2":0.097},{"d1":-0.652,"d2":0.146},{"d1":-0.631,"d2":-0.029},{"d1":-0.635,"d2":-0.092},{"d1":-0.63,"d2":-0.09},{"d1":-0.599,"d2":0.119},{"d1":-0.574,"d2":0.133},{"d1":-0.568,"d2":0.083},{"d1":-0.553,"d2":0.032},{"d1":-0.546,"d2":-0.036},{"d1":-0.546,"d2":-0.099},{"d1":-0.515,"d2":-0.086},{"d1":-0.49,"d2":0.14},{"d1":-0.483,"d2":0.173},{"d1":-0.488,"d2":-0.016},{"d1":-0.456,"d2":-0.126},{"d1":-0.3,"d2":0.011},{"d1":-0.279,"d2":0.052},{"d1":-0.284,"d2":-0.151},{"d1":-0.242,"d2":0.191},{"d1":-0.221,"d2":0.238},{"d1":-0.204,"d2":0.166},{"d1":-0.206,"d2":-0.148},{"d1":-0.162,"d2":0.009},{"d1":-0.147,"d2":0.162},{"d1":-0.134,"d2":0.094},{"d1":-0.115,"d2":-0.182},{"d1":-0.057,"d2":-0.013},{"d1":0.082,"d2":-0.088},{"d1":0.091,"d2":-0.153},{"d1":0.126,"d2":0.355},{"d1":0.139,"d2":0.157},{"d1":0.148,"d2":0.07},{"d1":0.143,"d2":0.005},{"d1":0.175,"d2":-0.086},{"d1":0.192,"d2":-0.065},{"d1":0.202,"d2":-0.126},{"d1":0.334,"d2":0.133},{"d1":0.372,"d2":0.045},{"d1":0.379,"d2":0.393},{"d1":0.4,"d2":-0.232},{"d1":0.425,"d2":0.097},{"d1":0.438,"d2":0.205},{"d1":0.463,"d2":-0.238},{"d1":0.471,"d2":0.403},{"d1":0.501,"d2":-0.211},{"d1":0.551,"d2":0.376},{"d1":0.549,"d2":0.094},{"d1":0.583,"d2":0.123},{"d1":0.644,"d2":0.189},{"d1":0.648,"d2":-0.281},{"d1":0.652,"d2":-0.276},{"d1":0.686,"d2":0.005},{"d1":0.688,"d2":0.447},{"d1":0.726,"d2":0.2},{"d1":0.73,"d2":-0.025},{"d1":0.772,"d2":-0.022},{"d1":0.782,"d2":0.04},{"d1":0.808,"d2":0.256},{"d1":0.825,"d2":0.171},{"d1":0.825,"d2":0.308},{"d1":0.827,"d2":-0.072},{"d1":0.835,"d2":0.398},{"d1":0.861,"d2":0.517},{"d1":0.867,"d2":0.052},{"d1":0.894,"d2":-0.205},{"d1":0.894,"d2":-0.353},{"d1":0.9,"d2":0.288},{"d1":0.905,"d2":0.011},{"d1":0.921,"d2":0.067},{"d1":0.936,"d2":0.236},{"d1":0.944,"d2":0.196},{"d1":0.953,"d2":0.15},{"d1":0.991,"d2":-0.045},{"d1":1.003,"d2":0.187},{"d1":1.02,"d2":-0.322},{"d1":1.02,"d2":0.277}
],
"m3b":[
{"d1":-1.14,"d2":-0.058},{"d1":-1.083,"d2":-0.108},{"d1":-0.904,"d2":-0.173},{"d1":-0.62,"d2":-0.243},{"d1":-0.155,"d2":-0.472},{"d1":0.183,"d2":-0.72},{"d1":0.276,"d2":-0.65},{"d1":0.497,"d2":-0.812},{"d1":0.652,"d2":-1.028},{"d1":0.747,"d2":-0.97}
]
},
"vconcat":[
{"hconcat":[
{"width":389,"height":251,"title":"Functional data","layer":[
{"data":{"values":[{"v":-3.75},{"v":-1.25},{"v":1.25},{"v":3.75}]},"mark":{"type":"rule","color":"#EBEBEB","strokeWidth":1},"encoding":{"x":{"field":"v","type":"quantitative","title":"t","scale":{"domain":[-5.5,5.5],"nice":false,"zero":false}}}},
{"data":{"values":[{"v":0.1},{"v":0.3},{"v":0.5},{"v":0.7}]},"mark":{"type":"rule","color":"#EBEBEB","strokeWidth":1},"encoding":{"y":{"field":"v","type":"quantitative","title":"x(t)","scale":{"domain":[-0.04,0.835],"nice":false,"zero":false}}}},
{"data":{"name":"f1"},"mark":{"type":"line","interpolate":"monotone","color":"#C2C2C2","strokeWidth":1.6},"encoding":{"x":{"field":"t","type":"quantitative","title":"t","scale":{"domain":[-5.5,5.5],"nice":false,"zero":false},"axis":{"values":[-5,-2.5,0,2.5,5],"format":".1f"}},"y":{"field":"x","type":"quantitative","title":"x(t)","scale":{"domain":[-0.04,0.835],"nice":false,"zero":false},"axis":{"values":[0,0.2,0.4,0.6,0.8],"format":".1f","minExtent":33,"maxExtent":33}},"detail":{"field":"c","type":"nominal"}}},
{"data":{"values":[{"t":-5,"x":0},{"t":5,"x":0}]},"mark":{"type":"line","color":"#C2C2C2","strokeWidth":2},"encoding":{"x":{"field":"t","type":"quantitative","title":"t"},"y":{"field":"x","type":"quantitative","title":"x(t)"}}}
]},
{"width":371,"height":251,"title":"MDS embedding","layer":[
{"data":{"values":[{"v":-1.5},{"v":-0.5},{"v":0.5}]},"mark":{"type":"rule","color":"#EBEBEB","strokeWidth":1},"encoding":{"x":{"field":"v","type":"quantitative","title":"MDS embedding 1","scale":{"domain":[-1.723,1.512],"nice":false,"zero":false}}}},
{"data":{"values":[{"v":-0.75},{"v":-0.25},{"v":0.25},{"v":0.75},{"v":1.25}]},"mark":{"type":"rule","color":"#EBEBEB","strokeWidth":1},"encoding":{"y":{"field":"v","type":"quantitative","title":"MDS embedding 2","scale":{"domain":[-1.0,1.373],"nice":false,"zero":false}}}},
{"data":{"name":"m1"},"mark":{"type":"circle","size":40,"color":"#BEBEBE","opacity":0.7},"encoding":{"x":{"field":"d1","type":"quantitative","title":"MDS embedding 1","scale":{"domain":[-1.723,1.512],"nice":false,"zero":false},"axis":{"values":[-1,0,1],"format":"d"}},"y":{"field":"d2","type":"quantitative","title":"MDS embedding 2","scale":{"domain":[-1.0,1.373],"nice":false,"zero":false},"axis":{"values":[-0.5,0,0.5,1],"format":".1f","minExtent":43,"maxExtent":43}}}}
]}
],"spacing":15},
{"hconcat":[
{"width":389,"height":251,"title":"Functional data","layer":[
{"data":{"values":[{"v":-3.75},{"v":-1.25},{"v":1.25},{"v":3.75}]},"mark":{"type":"rule","color":"#EBEBEB","strokeWidth":1},"encoding":{"x":{"field":"v","type":"quantitative","title":"t","scale":{"domain":[-5.5,5.5],"nice":false,"zero":false}}}},
{"data":{"values":[{"v":0.1},{"v":0.3},{"v":0.5},{"v":0.7}]},"mark":{"type":"rule","color":"#EBEBEB","strokeWidth":1},"encoding":{"y":{"field":"v","type":"quantitative","title":"x(t)","scale":{"domain":[-0.04,0.835],"nice":false,"zero":false}}}},
{"data":{"name":"f2b"},"mark":{"type":"line","interpolate":"monotone","color":"#0000FF","strokeWidth":1.6},"encoding":{"x":{"field":"t","type":"quantitative","title":"t","scale":{"domain":[-5.5,5.5],"nice":false,"zero":false},"axis":{"values":[-5,-2.5,0,2.5,5],"format":".1f"}},"y":{"field":"x","type":"quantitative","title":"x(t)","scale":{"domain":[-0.04,0.835],"nice":false,"zero":false},"axis":{"values":[0,0.2,0.4,0.6,0.8],"format":".1f","minExtent":33,"maxExtent":33}},"detail":{"field":"c","type":"nominal"}}},
{"data":{"name":"f2g"},"mark":{"type":"line","interpolate":"monotone","color":"#BEBEBE","strokeWidth":1.6,"opacity":0.5},"encoding":{"x":{"field":"t","type":"quantitative","title":"t"},"y":{"field":"x","type":"quantitative","title":"x(t)"},"detail":{"field":"c","type":"nominal"}}},
{"data":{"values":[{"t":-5,"x":0},{"t":5,"x":0}]},"mark":{"type":"line","color":"#C2C2C2","strokeWidth":2},"encoding":{"x":{"field":"t","type":"quantitative","title":"t"},"y":{"field":"x","type":"quantitative","title":"x(t)"}}}
]},
{"width":371,"height":251,"title":"MDS embedding","layer":[
{"data":{"values":[{"v":-1.25},{"v":-0.75},{"v":-0.25},{"v":0.25},{"v":0.75}]},"mark":{"type":"rule","color":"#EBEBEB","strokeWidth":1},"encoding":{"x":{"field":"v","type":"quantitative","title":"MDS embedding 1","scale":{"domain":[-1.26,1.134],"nice":false,"zero":false}}}},
{"data":{"values":[{"v":-1.0},{"v":-0.6},{"v":-0.2}]},"mark":{"type":"rule","color":"#EBEBEB","strokeWidth":1},"encoding":{"y":{"field":"v","type":"quantitative","title":"MDS embedding 2","scale":{"domain":[-1.2,0.17],"nice":false,"zero":false}}}},
{"data":{"name":"m2g"},"mark":{"type":"circle","size":40,"color":"#BEBEBE","opacity":0.45},"encoding":{"x":{"field":"d1","type":"quantitative","title":"MDS embedding 1","scale":{"domain":[-1.26,1.134],"nice":false,"zero":false},"axis":{"values":[-1,-0.5,0,0.5,1],"format":".1f"}},"y":{"field":"d2","type":"quantitative","title":"MDS embedding 2","scale":{"domain":[-1.2,0.17],"nice":false,"zero":false},"axis":{"values":[-0.8,-0.4,0],"format":".1f","minExtent":43,"maxExtent":43}}}},
{"data":{"name":"m2b"},"mark":{"type":"circle","size":40,"color":"#0000FF","opacity":1},"encoding":{"x":{"field":"d1","type":"quantitative","title":"MDS embedding 1"},"y":{"field":"d2","type":"quantitative","title":"MDS embedding 2"}}}
]}
],"spacing":15},
{"hconcat":[
{"width":389,"height":251,"title":"Functional data","layer":[
{"data":{"values":[{"v":-3.75},{"v":-1.25},{"v":1.25},{"v":3.75}]},"mark":{"type":"rule","color":"#EBEBEB","strokeWidth":1},"encoding":{"x":{"field":"v","type":"quantitative","title":"t","scale":{"domain":[-5.5,5.5],"nice":false,"zero":false}}}},
{"data":{"values":[{"v":0.1},{"v":0.3},{"v":0.5},{"v":0.7}]},"mark":{"type":"rule","color":"#EBEBEB","strokeWidth":1},"encoding":{"y":{"field":"v","type":"quantitative","title":"x(t)","scale":{"domain":[-0.04,0.835],"nice":false,"zero":false}}}},
{"data":{"name":"f3b"},"mark":{"type":"line","interpolate":"monotone","color":"#0000FF","strokeWidth":1.6},"encoding":{"x":{"field":"t","type":"quantitative","title":"t","scale":{"domain":[-5.5,5.5],"nice":false,"zero":false},"axis":{"values":[-5,-2.5,0,2.5,5],"format":".1f"}},"y":{"field":"x","type":"quantitative","title":"x(t)","scale":{"domain":[-0.04,0.835],"nice":false,"zero":false},"axis":{"values":[0,0.2,0.4,0.6,0.8],"format":".1f","minExtent":33,"maxExtent":33}},"detail":{"field":"c","type":"nominal"}}},
{"data":{"name":"f3g"},"mark":{"type":"line","interpolate":"monotone","color":"#BEBEBE","strokeWidth":1.6,"opacity":0.6},"encoding":{"x":{"field":"t","type":"quantitative","title":"t"},"y":{"field":"x","type":"quantitative","title":"x(t)"},"detail":{"field":"c","type":"nominal"}}},
{"data":{"values":[{"t":-5,"x":0},{"t":5,"x":0}]},"mark":{"type":"line","color":"#C2C2C2","strokeWidth":2},"encoding":{"x":{"field":"t","type":"quantitative","title":"t"},"y":{"field":"x","type":"quantitative","title":"x(t)"}}}
]},
{"width":371,"height":251,"title":"MDS embedding","layer":[
{"data":{"values":[{"v":-0.75},{"v":-0.25},{"v":0.25},{"v":0.75}]},"mark":{"type":"rule","color":"#EBEBEB","strokeWidth":1},"encoding":{"x":{"field":"v","type":"quantitative","title":"MDS embedding 1","scale":{"domain":[-1.247,1.094],"nice":false,"zero":false}}}},
{"data":{"values":[{"v":-0.75},{"v":-0.25},{"v":0.25}]},"mark":{"type":"rule","color":"#EBEBEB","strokeWidth":1},"encoding":{"y":{"field":"v","type":"quantitative","title":"MDS embedding 2","scale":{"domain":[-1.102,0.592],"nice":false,"zero":false}}}},
{"data":{"name":"m3g"},"mark":{"type":"circle","size":40,"color":"#BEBEBE","opacity":0.45},"encoding":{"x":{"field":"d1","type":"quantitative","title":"MDS embedding 1","scale":{"domain":[-1.247,1.094],"nice":false,"zero":false},"axis":{"values":[-1,-0.5,0,0.5,1],"format":".1f"}},"y":{"field":"d2","type":"quantitative","title":"MDS embedding 2","scale":{"domain":[-1.102,0.592],"nice":false,"zero":false},"axis":{"values":[-1,-0.5,0,0.5],"format":".1f","minExtent":43,"maxExtent":43}}}},
{"data":{"name":"m3b"},"mark":{"type":"circle","size":40,"color":"#0000FF","opacity":1},"encoding":{"x":{"field":"d1","type":"quantitative","title":"MDS embedding 1"},"y":{"field":"d2","type":"quantitative","title":"MDS embedding 2"}}}
]}
],"spacing":15}
],
"spacing":17.5
}
